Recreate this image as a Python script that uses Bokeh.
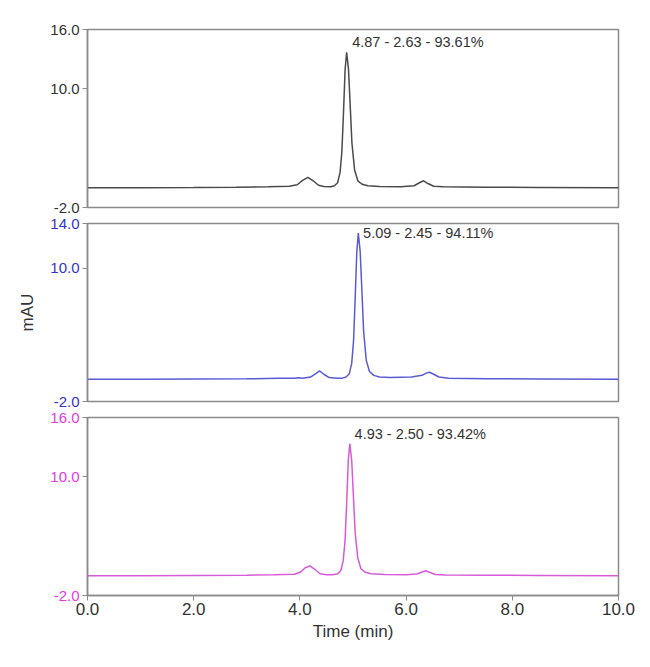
from bokeh.plotting import figure
from bokeh.layouts import column
from bokeh.models import Range1d, FixedTicker, PrintfTickFormatter, Label
from bokeh.embed import file_html
from bokeh.resources import INLINE

# ---- data ----
time_a = [0.0, 1.0, 2.0, 2.8, 3.4, 3.8, 3.95, 4.05, 4.15, 4.25,
          4.35, 4.45, 4.58, 4.65, 4.71, 4.755, 4.79, 4.822, 4.851, 4.88,
          4.915, 4.95, 4.98, 5.03, 5.09, 5.17, 5.28, 5.5, 5.9, 6.15,
          6.25, 6.33, 6.42, 6.52, 6.7, 7.5, 8.5, 10.0]
sig_a = [0.0, 0.0, 0.02, 0.05, 0.1, 0.15, 0.3, 0.75, 1.05, 0.7,
         0.25, 0.12, 0.1, 0.2, 0.5, 1.5, 3.6, 7.7, 11.9, 13.7,
         12.0, 8.0, 4.5, 1.8, 0.7, 0.35, 0.2, 0.12, 0.1, 0.2,
         0.5, 0.7, 0.4, 0.15, 0.1, 0.05, 0.02, 0.0]

time_b = [0.0, 1.0, 2.0, 3.0, 3.6, 3.9, 3.97, 4.05, 4.2, 4.3,
          4.37, 4.45, 4.55, 4.7, 4.80, 4.87, 4.93, 4.975, 5.01, 5.042,
          5.071, 5.10, 5.135, 5.17, 5.20, 5.25, 5.31, 5.39, 5.50, 5.7,
          6.1, 6.3, 6.38, 6.44, 6.52, 6.62, 6.8, 7.5, 8.5, 10.0]
sig_b = [0.0, 0.0, 0.02, 0.04, 0.08, 0.1, 0.14, 0.08, 0.2, 0.5,
         0.75, 0.45, 0.15, 0.08, 0.1, 0.2, 0.5, 1.4, 3.4, 7.4,
         11.4, 13.15, 11.5, 7.7, 4.3, 1.7, 0.7, 0.35, 0.2, 0.15,
         0.2, 0.35, 0.55, 0.63, 0.45, 0.2, 0.1, 0.05, 0.02, 0.0]

time_c = [0.0, 1.0, 2.0, 3.0, 3.5, 3.9, 4.02, 4.10, 4.19, 4.28,
          4.38, 4.5, 4.62, 4.71, 4.77, 4.815, 4.85, 4.882, 4.911, 4.94,
          4.975, 5.01, 5.04, 5.09, 5.15, 5.23, 5.34, 5.6, 6.0, 6.2,
          6.30, 6.37, 6.45, 6.55, 6.75, 7.5, 8.5, 10.0]
sig_c = [0.0, 0.0, 0.02, 0.05, 0.1, 0.15, 0.4, 0.8, 1.0, 0.65,
         0.2, 0.1, 0.1, 0.2, 0.5, 1.5, 3.5, 7.5, 11.6, 13.35,
         11.7, 7.8, 4.4, 1.8, 0.7, 0.35, 0.2, 0.12, 0.1, 0.18,
         0.38, 0.5, 0.32, 0.12, 0.08, 0.05, 0.02, 0.0]

ann_text = ["4.87 - 2.63 - 93.61%", "5.09 - 2.45 - 94.11%", "4.93 - 2.50 - 93.42%"]
ann_x = [4.985, 5.19, 5.03]
ann_y = [14.73, 13.15, 14.3]

y_lo = [-2.0, -2.0, -2.0]
y_hi = [16.0, 14.0, 16.0]
y_ticks = [[-2.0, 10.0, 16.0], [-2.0, 10.0, 14.0], [-2.0, 10.0, 16.0]]
x_ticks = [0.0, 2.0, 4.0, 6.0, 8.0, 10.0]

line_colors = ["#4a4a4a", "#5a5ad6", "#d85ad8"]
label_colors = ["#333333", "#3434c8", "#e03ce0"]

FONT = "Liberation Sans"
traces = [(time_a, sig_a), (time_b, sig_b), (time_c, sig_c)]

FW, FH = 531, 178
figs = []
for i, (tx, ty) in enumerate(traces):
    last = (i == 2)
    top = 29 if i == 0 else 8
    bottom = 50 if last else 8
    p = figure(width=87 + FW + 22, height=top + FH + bottom,
               frame_width=FW, frame_height=FH,
               output_backend="svg", toolbar_location=None,
               x_range=Range1d(0, 10), y_range=Range1d(y_lo[i], y_hi[i]),
               min_border_left=87, min_border_right=22,
               min_border_top=top, min_border_bottom=bottom)
    p.line(tx, ty, line_color=line_colors[i], line_width=1.5)
    p.grid.visible = False
    p.outline_line_color = "#8a8a8a"
    p.outline_line_width = 1.5
    p.background_fill_color = "white"
    p.border_fill_color = "white"

    ya = p.yaxis[0]
    ya.ticker = FixedTicker(ticks=y_ticks[i])
    ya.formatter = PrintfTickFormatter(format="%.1f")
    ya.major_label_text_color = label_colors[i]
    ya.major_label_text_font = FONT
    ya.major_label_text_font_size = "15px"
    ya.axis_line_color = "#8a8a8a"
    ya.axis_line_width = 1.5
    ya.major_tick_line_color = "#8a8a8a"
    ya.major_tick_in = 0
    ya.major_tick_out = 5
    ya.minor_tick_line_color = None
    ya.major_label_standoff = 3
    if i == 1:
        ya.axis_label = "mAU"
        ya.axis_label_text_font = FONT
        ya.axis_label_text_font_style = "normal"
        ya.axis_label_text_font_size = "17px"
        ya.axis_label_text_color = "#333333"
        ya.axis_label_standoff = 10

    xa = p.xaxis[0]
    if last:
        xa.ticker = FixedTicker(ticks=x_ticks)
        xa.formatter = PrintfTickFormatter(format="%.1f")
        xa.major_label_text_font = FONT
        xa.major_label_text_font_size = "17px"
        xa.major_label_text_color = "#333333"
        xa.axis_line_color = "#8a8a8a"
        xa.axis_line_width = 1.5
        xa.major_tick_line_color = "#8a8a8a"
        xa.major_tick_in = 0
        xa.major_tick_out = 5
        xa.minor_tick_line_color = None
        xa.major_label_standoff = 2
        xa.axis_label = "Time (min)"
        xa.axis_label_text_font = FONT
        xa.axis_label_text_font_style = "normal"
        xa.axis_label_text_font_size = "17px"
        xa.axis_label_text_color = "#333333"
        xa.axis_label_standoff = 4
    else:
        xa.visible = False

    p.add_layout(Label(x=ann_x[i], y=ann_y[i], text=ann_text[i],
                       text_font=FONT, text_font_size="14.5px",
                       text_color="#333333", text_baseline="middle",
                       text_align="left"))
    figs.append(p)

layout = column(*figs, spacing=0)
open("out.html", "w").write(file_html(layout, INLINE))
